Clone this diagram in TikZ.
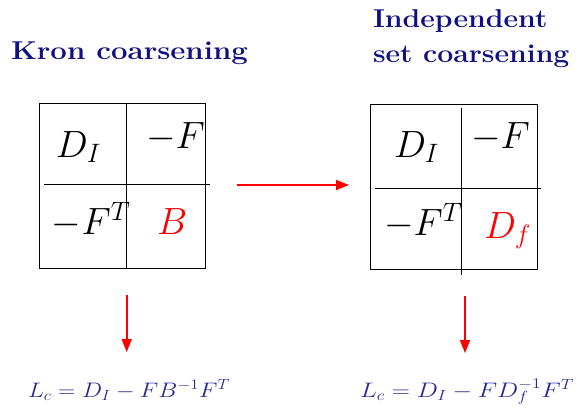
\RequirePackage{fix-cm}
\documentclass[tikz,border=0pt]{standalone}
\usepackage{fontspec}
\usetikzlibrary{arrows.meta}
\definecolor{headblue}{RGB}{16,16,128}
\definecolor{formblue}{RGB}{40,40,150}
\tikzset{
  lbl/.style={anchor=base west, inner sep=0pt, outer sep=0pt},
  head/.style={lbl, text=headblue, font=\fontsize{25.8}{30}\selectfont\bfseries},
  cell/.style={lbl, font=\fontsize{38}{40}\selectfont},
  formula/.style={lbl, text=formblue, font=\fontsize{21}{24}\selectfont},
  matbox/.style={draw=black, line width=0.8pt, inner sep=0pt, minimum width=166.5pt, minimum height=165pt},
  grid/.style={draw=black, line width=0.8pt},
  redarrow/.style={draw=red, line width=1.8pt, -{Triangle[length=13pt,width=10pt]}}
}
\begin{document}
\begin{tikzpicture}[x=1pt,y=-1pt]
\useasboundingbox (0,0) rectangle (579,408);
% headings
\node[head] (hk) at (11,59) {\scalebox{1.14}[1]{Kron coarsening}};
\node[head] (hi1) at (373,27) {\scalebox{1.1}[1]{Independent}};
\node[head] (hi2) at (373,62) {\scalebox{1.1}[1]{set coarsening}};
% left matrix
\node[matbox] (lbox) at (122.3,185.5) {};
\coordinate (lvt) at (126.7,103);
\coordinate (lvb) at (126.7,268);
\coordinate (lhl) at (44,184);
\coordinate (lhr) at (210,184);
\draw[grid] (lvt) -- (lvb);
\draw[grid] (lhl) -- (lhr);
\node[cell] (l11) at (56,157) {$D_I$};
\node[cell] (l12) at (146,148) {$-F$};
\node[cell] (l21) at (52,234) {$-F^T$};
\node[cell, text=red] (l22) at (157,234) {$B$};
% right matrix
\node[matbox] (rbox) at (453.7,187.2) {};
\coordinate (rvt) at (461.7,107.7);
\coordinate (rvb) at (461.7,275);
\coordinate (rhl) at (375,188.3);
\coordinate (rhr) at (541,188.3);
\draw[grid] (rvt) -- (rvb);
\draw[grid] (rhl) -- (rhr);
\node[cell] (r11) at (394,157) {$D_I$};
\node[cell] (r12) at (471,148) {$-F$};
\node[cell] (r21) at (384,235) {$-F^T$};
\node[cell, text=red] (r22) at (484,238) {$D_f$};
% arrows
\coordinate (ha) at (237,185);
\coordinate (hb) at (349,185);
\draw[redarrow] (ha) -- (hb);
\coordinate (la) at (126.7,295);
\coordinate (lb) at (126.7,352);
\draw[redarrow] (la) -- (lb);
\coordinate (ra) at (465,296);
\coordinate (rb) at (465,353);
\draw[redarrow] (ra) -- (rb);
% formulas
\node[formula] (fl) at (28,397) {\scalebox{1.14}[1]{$L_c = D_I - F B^{-1} F^T$}};
\node[formula] (fr) at (360,397) {\scalebox{1.2}[1]{$L_c = D_I - F D_f^{-1} F^T$}};
\end{tikzpicture}
\end{document}
